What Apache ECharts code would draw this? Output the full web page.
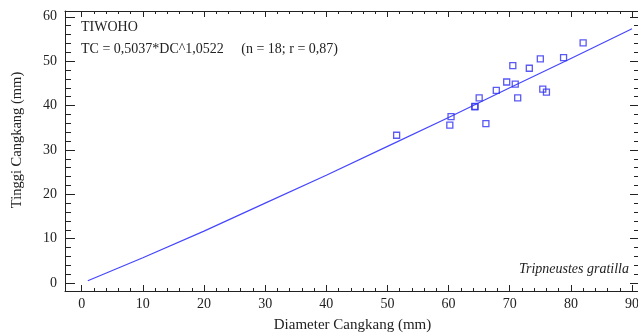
<!DOCTYPE html>
<html>
<head>
<meta charset="utf-8">
<script src="https://cdn.jsdelivr.net/npm/echarts@6/dist/echarts.min.js"></script>
<style>
  html, body { margin: 0; padding: 0; background: #fff; }
  #chart { width: 638px; height: 333px; }
</style>
</head>
<body>
<div id="chart"></div>
<script>
// titik pengamatan: diameter (mm) dan tinggi cangkang (mm)
const diameter = [51.5, 60.2, 60.4, 64.3, 64.3, 65.0, 66.1, 67.8, 69.5, 70.5, 70.9, 71.3, 73.2, 75.0, 75.4, 76.0, 78.8, 82.0];
const tinggi   = [33.3, 35.6, 37.5, 39.7, 39.8, 41.7, 35.9, 43.4, 45.3, 49.0, 44.8, 41.7, 48.4, 50.5, 43.7, 43.0, 50.8, 54.1];

// garis regresi
const fitX = [1, 10, 20, 30, 40, 50, 60, 70, 80, 90];
const fitY = [0.5, 5.7, 11.7, 18.0, 24.3, 30.8, 37.3, 44.0, 50.6, 57.3];

const xMajor = [0, 10, 20, 30, 40, 50, 60, 70, 80, 90];
const yMajor = [0, 10, 20, 30, 40, 50, 60];
const xMinor = [];
for (let v = 0; v <= 90; v += 2) xMinor.push(v);
const yMinor = [];
for (let v = 0; v <= 60; v += 2) yMinor.push(v);

const xMin = -2.73, xMax = 91.3;
const yMin = -1.8, yMax = 61.3;

const chart = echarts.init(document.getElementById("chart"));
const font = "'Liberation Serif', 'Times New Roman', serif";
const ink = "#222";

function axisOf(pos, min, max, ticks, len, showLine, opts) {
  return Object.assign({
    type: "value", position: pos, min: min, max: max,
    axisLine: { show: showLine, onZero: false, lineStyle: { color: ink, width: 1 } },
    axisTick: { show: true, inside: true, length: len, customValues: ticks, lineStyle: { color: ink } },
    axisLabel: { show: false },
    splitLine: { show: false }
  }, opts || {});
}

chart.setOption({
  animation: false,
  backgroundColor: "#fff",
  textStyle: { fontFamily: font },
  grid: { left: 65, top: 11, right: -2, bottom: 42, containLabel: false, outerBoundsMode: "none" },
  xAxis: [
    axisOf("bottom", xMin, xMax, xMajor, 6, true, {
      axisLabel: { show: true, customValues: xMajor, color: ink, fontFamily: font, fontSize: 14, margin: 6 },
      name: "Diameter Cangkang (mm)", nameLocation: "middle", nameGap: 27,
      nameTextStyle: { color: ink, fontFamily: font, fontSize: 15 }
    }),
    axisOf("bottom", xMin, xMax, xMinor, 3, false),
    axisOf("top", xMin, xMax, xMajor, 6, true),
    axisOf("top", xMin, xMax, xMinor, 3, false)
  ],
  yAxis: [
    axisOf("left", yMin, yMax, yMajor, 10, true, {
      axisLabel: { show: true, customValues: yMajor, color: ink, fontFamily: font, fontSize: 14, margin: 8 },
      name: "Tinggi Cangkang (mm)", nameLocation: "middle", nameGap: 40,
      nameTextStyle: { color: ink, fontFamily: font, fontSize: 14.5, padding: [0, 0, 0, 22] }
    }),
    axisOf("left", yMin, yMax, yMinor, 6, false),
    axisOf("right", yMin, yMax, yMajor, 10, true),
    axisOf("right", yMin, yMax, yMinor, 6, false)
  ],
  series: [
    {
      type: "line",
      data: fitX.map((x, i) => [x, fitY[i]]),
      showSymbol: false,
      lineStyle: { color: "#4646ff", width: 1.2 },
      z: 2
    },
    {
      type: "scatter",
      data: diameter.map((x, i) => [x, tinggi[i]]),
      symbol: "rect",
      symbolSize: 6,
      itemStyle: { color: "rgba(255,255,255,0)", borderColor: "#2f2ff2", borderWidth: 1.3 },
      z: 3
    }
  ],
  graphic: [
    { type: "text", left: 81, top: 20, style: { text: "TIWOHO", font: "14px " + font, fill: ink } },
    { type: "text", left: 81, top: 42, style: { text: "TC = 0,5037*DC^1,0522     (n = 18; r = 0,87)", font: "14px " + font, fill: ink } },
    { type: "text", right: 9, top: 262, style: { text: "Tripneustes gratilla", font: "italic 14px " + font, fill: ink } }
  ]
});

window.addEventListener("resize", () => chart.resize());
</script>
</body>
</html>
